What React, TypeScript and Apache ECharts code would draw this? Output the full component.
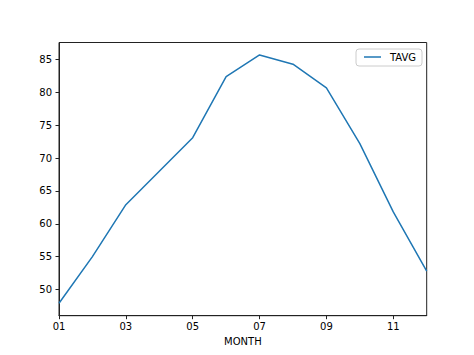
import React, { useEffect, useRef } from "react";
import * as echarts from "echarts";

const months = ["01", "02", "03", "04", "05", "06", "07", "08", "09", "10", "11", "12"];
const tavg = [47.9, 55.0, 62.9, 68.0, 73.1, 82.4, 85.7, 84.3, 80.7, 72.2, 61.8, 52.8];
const yTicks = [50, 55, 60, 65, 70, 75, 80, 85];
const seriesName = "TAVG";
const xName = "MONTH";

const FONT = "DejaVu Sans";

export default function App() {
  const ref = useRef<HTMLDivElement>(null);
  useEffect(() => {
    if (!ref.current) return;
    const chart = echarts.init(ref.current, undefined, { renderer: "svg" });
    const gridLeft = 59;
    const gridTop = 42.5;
    const gridW = 367.7;
    const gridH = 273.2;
    chart.setOption({
      animation: false,
      backgroundColor: "#ffffff",
      textStyle: { fontFamily: FONT },
      grid: {
        left: gridLeft,
        top: gridTop,
        width: gridW,
        height: gridH,
        show: true,
        borderColor: "#222",
        borderWidth: 1,
        containLabel: false,
      },
      xAxis: {
        type: "category",
        data: months,
        boundaryGap: false,
        name: xName,
        nameLocation: "middle",
        nameGap: 20,
        nameTextStyle: { color: "#000", fontSize: 10, fontFamily: FONT },
        axisLine: { show: true, lineStyle: { color: "#222", width: 1 } },
        axisTick: { show: true, interval: 1, length: 3.5, lineStyle: { color: "#222" } },
        axisLabel: { interval: 1, color: "#000", fontSize: 10, fontFamily: FONT, margin: 6 },
        splitLine: { show: false },
      },
      yAxis: {
        type: "value",
        min: 46.0,
        max: 87.6,
        axisLine: { show: true, lineStyle: { color: "#222", width: 1 } },
        axisTick: { show: true, length: 3.5, lineStyle: { color: "#222" }, customValues: yTicks },
        axisLabel: { color: "#000", fontSize: 10, fontFamily: FONT, margin: 7, customValues: yTicks },
        splitLine: { show: false },
      },
      series: [
        {
          name: seriesName,
          type: "line",
          data: tavg,
          showSymbol: false,
          symbol: "none",
          lineStyle: { color: "#1f77b4", width: 1.5 },
          itemStyle: { color: "#1f77b4" },
        },
      ],
      graphic: [
        {
          type: "rect",
          shape: { x: 356, y: 49, width: 66, height: 17, r: 3 },
          style: { fill: "rgba(255,255,255,0.8)", stroke: "#cccccc", lineWidth: 1 },
          z: 100,
        },
        {
          type: "line",
          shape: { x1: 364, y1: 57, x2: 381, y2: 57 },
          style: { stroke: "#1f77b4", lineWidth: 1.5 },
          z: 101,
        },
        {
          type: "text",
          x: 390,
          y: 57.5,
          style: {
            text: seriesName,
            fill: "#000",
            fontSize: 10,
            fontFamily: FONT,
            verticalAlign: "middle",
            align: "left",
          },
          z: 101,
        },
      ],
    });
    return () => chart.dispose();
  }, []);
  return (
    <div
      ref={ref}
      style={{ position: "fixed", left: 0, top: 0, width: 474, height: 355 }}
    />
  );
}
